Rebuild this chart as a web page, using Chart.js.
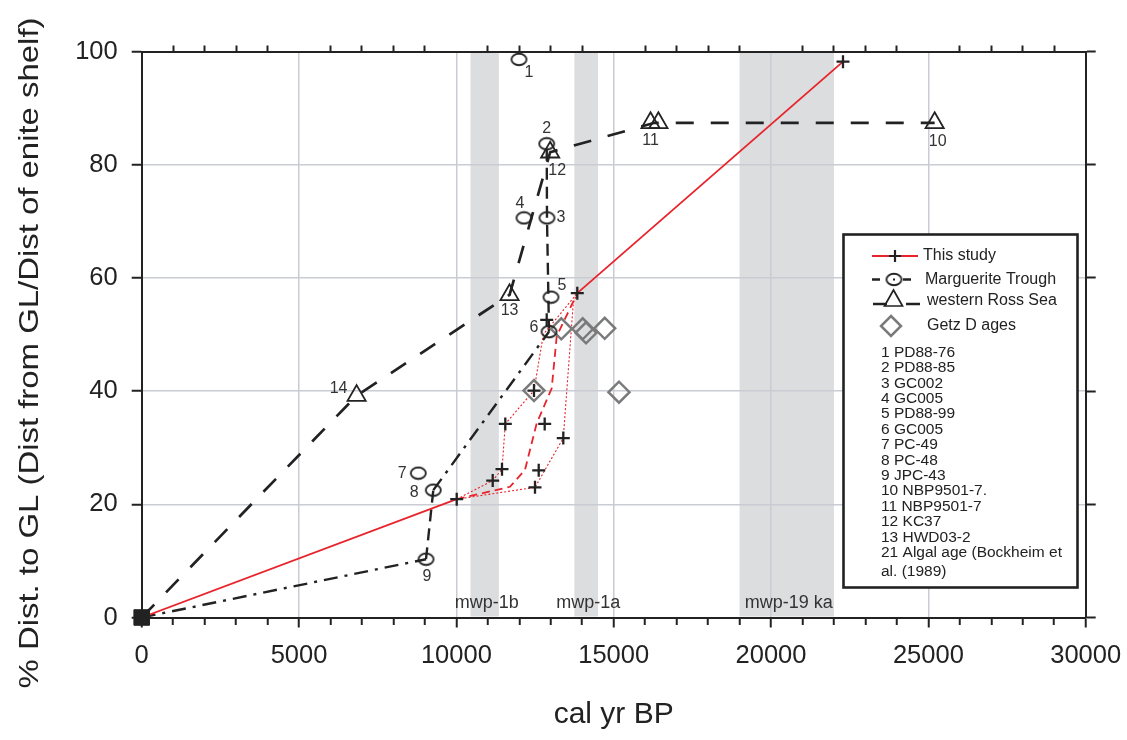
<!DOCTYPE html>
<html>
<head>
<meta charset="utf-8">
<script src="https://cdn.jsdelivr.net/npm/chart.js@4.4.1/dist/chart.umd.min.js"></script>
<style>
  html, body { margin: 0; padding: 0; background: #fff; }
  canvas { display: block; }
</style>
</head>
<body>
<canvas id="graphCanvas" width="1127" height="740"></canvas>
<script>
// ---- values ----
// "This study" main line (solid red), gap between 2nd and 3rd point
var studyX = [0, 10011, 13843, 22287];
var studyY = [0, 20.9, 57.3, 98.2];

// red envelope lines between 10 ka and 13.8 ka
var leftEnvX = [10011, 11155, 11450, 11555, 12467, 12763, 13843];
var leftEnvY = [20.9, 24.2, 26.2, 34.2, 40.1, 50.0, 57.3];
var rightEnvX = [10011, 12499, 13398, 13716, 13843];
var rightEnvY = [20.9, 23.0, 31.7, 55.6, 57.3];
var midX = [10011, 11704, 12181, 12553, 13030, 13189, 13843];
var midY = [20.9, 23.1, 26.1, 34.3, 40.5, 49.7, 57.3];

// "+" dates of this study
var crossX = [10011, 11155, 11450, 11555, 12467, 12499, 12617, 12807, 13398, 12871, 13843, 22287];
var crossY = [20.9, 24.2, 26.2, 34.2, 40.1, 23.0, 26.0, 34.2, 31.7, 52.6, 57.3, 98.2];

// Marguerite Trough
var margX = [0, 9035, 9267, 12944, 12880, 12871];
var margY = [0, 10.3, 22.5, 50.5, 70.6, 83.7];
var circleX = [11990, 12871, 12880, 12149, 13007, 12944, 8790, 9267, 9035];
var circleY = [98.6, 83.7, 70.6, 70.6, 56.6, 50.5, 25.5, 22.5, 10.3];
var circleLabels = ['1', '2', '3', '4', '5', '6', '7', '8', '9'];

// western Ross Sea
var rossX = [0, 6830, 11690, 12980, 16300, 25200];
var rossY = [0, 39.2, 57.0, 82.2, 87.4, 87.4];
var triX = [6830, 11690, 12980, 16170, 16420, 25200];
var triY = [39.2, 57.0, 82.2, 87.4, 87.4, 87.4];
var triLabels = ['14', '13', '12', '11', '', '10'];

// Getz D ages
var getzX = [12467, 13335, 14015, 14120, 14714, 15168];
var getzY = [40.1, 51.0, 51.0, 50.3, 51.1, 39.8];

// meltwater pulses
var bandStart = [10450, 13750, 19000];
var bandEnd = [11350, 14500, 22000];
var bandLabels = ['mwp-1b', 'mwp-1a', 'mwp-19 ka'];

var legendList = ['1 PD88-76', '2 PD88-85', '3 GC002', '4 GC005', '5 PD88-99', '6 GC005',
  '7 PC-49', '8 PC-48', '9 JPC-43', '10 NBP9501-7.', '11 NBP9501-7', '12 KC37',
  '13 HWD03-2', '21 Algal age (Bockheim et', 'al. (1989)'];

var yTitle = '% Dist. to GL (Dist from GL/Dist of enite shelf)';

// ---- styles ----
var FONT = '"Liberation Sans", Arial, Helvetica, sans-serif';
var RED = '#e8232b';
var INK = '#222';
var GRID = '#c9ccd3';
Chart.defaults.font.family = FONT;
Chart.defaults.color = INK;

// label offsets (px) next to the markers
var circleLabelOff = [[10, 13], [0, -15], [14, 0], [-4, -14], [11, -12], [-15, -4], [-16, 0], [-19, 2], [1, 17]];
var triLabelOff = [[-18, -7], [0, 16], [7, 18], [0, 18], [0, 0], [3, 19]];

function pts(xs, ys) {
  var out = [];
  for (var i = 0; i < xs.length; i++) out.push({ x: xs[i], y: ys[i] });
  return out;
}

function ellipseMarker(w, h, lw) {
  var c = document.createElement('canvas');
  c.width = w + 4;
  c.height = h + 4;
  var g = c.getContext('2d');
  g.strokeStyle = INK;
  g.lineWidth = lw;
  g.beginPath();
  g.ellipse(c.width / 2, c.height / 2, w / 2, h / 2, 0, 0, 2 * Math.PI);
  g.stroke();
  return c;
}
var ellipse = ellipseMarker(15, 11.5, 1.8);

function isMajor(ctx) {
  return ctx.tick && ctx.tick.value % 5000 === 0;
}

var overlay = {
  id: 'overlay',
  beforeDraw: function (chart) {
    var ctx = chart.ctx, a = chart.chartArea, xs = chart.scales.x;
    ctx.save();
    ctx.fillStyle = '#dcdddf';
    for (var i = 0; i < bandStart.length; i++) {
      var x1 = xs.getPixelForValue(bandStart[i]);
      var x2 = xs.getPixelForValue(bandEnd[i]);
      ctx.fillRect(x1, a.top, x2 - x1, a.bottom - a.top - 1);
    }
    // y axis title, stretched a little along its length like the original
    ctx.translate(30, 353);
    ctx.rotate(-Math.PI / 2);
    ctx.scale(1.175, 1);
    ctx.font = '28px ' + FONT;
    ctx.fillStyle = INK;
    ctx.textAlign = 'center';
    ctx.textBaseline = 'middle';
    ctx.fillText(yTitle, 0, 0);
    ctx.restore();
  },
  afterDatasetsDraw: function (chart) {
    var ctx = chart.ctx, a = chart.chartArea, xs = chart.scales.x, ys = chart.scales.y;
    ctx.save();
    // band names
    ctx.font = '18px ' + FONT;
    ctx.fillStyle = '#333';
    ctx.textAlign = 'center';
    ctx.textBaseline = 'middle';
    for (var i = 0; i < bandLabels.length; i++) {
      var cx = (xs.getPixelForValue(bandStart[i]) + xs.getPixelForValue(bandEnd[i])) / 2;
      ctx.fillText(bandLabels[i], cx + 2, a.bottom - 14);
    }
    // point numbers
    ctx.font = '16px ' + FONT;
    for (i = 0; i < circleLabels.length; i++) {
      ctx.fillText(circleLabels[i], xs.getPixelForValue(circleX[i]) + circleLabelOff[i][0],
        ys.getPixelForValue(circleY[i]) + circleLabelOff[i][1]);
    }
    for (i = 0; i < triLabels.length; i++) {
      if (!triLabels[i]) continue;
      ctx.fillText(triLabels[i], xs.getPixelForValue(triX[i]) + triLabelOff[i][0],
        ys.getPixelForValue(triY[i]) + triLabelOff[i][1]);
    }
    ctx.restore();
    drawLegend(ctx);
  }
};

function drawLegend(ctx) {
  ctx.save();
  ctx.fillStyle = '#fff';
  ctx.fillRect(843.5, 234.5, 234, 353);
  ctx.lineWidth = 2.6;
  ctx.strokeStyle = INK;
  ctx.strokeRect(843.5, 234.5, 234, 353);

  // This study
  ctx.strokeStyle = RED;
  ctx.lineWidth = 1.8;
  ctx.beginPath(); ctx.moveTo(872, 256); ctx.lineTo(918, 256); ctx.stroke();
  ctx.strokeStyle = INK;
  ctx.lineWidth = 2.2;
  ctx.beginPath();
  ctx.moveTo(889, 256); ctx.lineTo(901, 256);
  ctx.moveTo(895, 250); ctx.lineTo(895, 262);
  ctx.stroke();

  // Marguerite Trough
  ctx.lineWidth = 2.4;
  ctx.beginPath();
  ctx.moveTo(872, 279.5); ctx.lineTo(880, 279.5);
  ctx.moveTo(903, 279.5); ctx.lineTo(911, 279.5);
  ctx.stroke();
  ctx.drawImage(ellipse, 894 - ellipse.width / 2, 279.5 - ellipse.height / 2);
  ctx.fillStyle = INK;
  ctx.fillRect(893, 278.5, 2, 2);

  // western Ross Sea
  ctx.lineWidth = 2.6;
  ctx.beginPath();
  ctx.moveTo(873, 304); ctx.lineTo(887, 304);
  ctx.moveTo(906, 304); ctx.lineTo(920, 304);
  ctx.stroke();
  ctx.lineWidth = 1.7;
  ctx.beginPath();
  ctx.moveTo(893.5, 290); ctx.lineTo(902.5, 306); ctx.lineTo(884.5, 306); ctx.closePath();
  ctx.stroke();

  // Getz D ages
  ctx.strokeStyle = '#7a7a7a';
  ctx.lineWidth = 2.5;
  ctx.beginPath();
  ctx.moveTo(891, 316); ctx.lineTo(901, 326); ctx.lineTo(891, 336); ctx.lineTo(881, 326); ctx.closePath();
  ctx.stroke();

  ctx.fillStyle = INK;
  ctx.textAlign = 'left';
  ctx.textBaseline = 'middle';
  ctx.font = '16px ' + FONT;
  ctx.fillText('This study', 923, 256);
  ctx.fillText('Marguerite Trough', 925, 279.5);
  ctx.fillText('western Ross Sea', 927, 301);
  ctx.fillText('Getz D ages', 927, 326);

  ctx.font = '15.5px ' + FONT;
  for (var i = 0; i < legendList.length; i++) {
    var y = 352.5 + i * 15.4;
    if (i === legendList.length - 1) y += 4;
    ctx.fillText(legendList[i], 881, y);
  }
  ctx.restore();
}

var lineBase = { showLine: true, pointRadius: 0, fill: false, xAxisID: 'x', yAxisID: 'y', tension: 0 };

new Chart(document.getElementById('graphCanvas'), {
  type: 'scatter',
  data: {
    datasets: [
      {
        label: 'origin', data: [{ x: 0, y: 0 }], pointStyle: 'rect', pointRadius: 11,
        backgroundColor: INK, borderColor: INK, borderWidth: 1, clip: false, xAxisID: 'x', yAxisID: 'y'
      },
      {
        label: 'This study', data: pts(crossX, crossY), pointStyle: 'cross', pointRadius: 6.5,
        borderColor: INK, borderWidth: 2.3, clip: false, xAxisID: 'x', yAxisID: 'y'
      },
      {
        label: 'Marguerite Trough', data: pts(circleX, circleY), pointStyle: ellipse,
        pointRadius: 7, clip: false, xAxisID: 'x', yAxisID: 'y'
      },
      {
        label: 'western Ross Sea', data: pts(triX, triY), pointStyle: 'triangle', pointRadius: 10.5,
        borderColor: INK, borderWidth: 1.8, backgroundColor: 'rgba(0,0,0,0)', clip: false,
        xAxisID: 'x', yAxisID: 'y'
      },
      {
        label: 'Getz D ages', data: pts(getzX, getzY), pointStyle: 'rectRot', pointRadius: 10.5,
        borderColor: '#7a7a7a', borderWidth: 2.5, backgroundColor: 'rgba(0,0,0,0)', clip: false,
        xAxisID: 'x', yAxisID: 'y'
      },
      Object.assign({}, lineBase, {
        label: 'study line', data: pts(studyX, studyY), borderColor: RED, borderWidth: 1.8,
        segment: { borderColor: function (c) { return c.p0DataIndex === 1 ? 'rgba(0,0,0,0)' : RED; } }
      }),
      Object.assign({}, lineBase, {
        label: 'mid', data: pts(midX, midY), borderColor: RED, borderWidth: 1.8, borderDash: [8, 5]
      }),
      Object.assign({}, lineBase, {
        label: 'left env', data: pts(leftEnvX, leftEnvY), borderColor: RED, borderWidth: 1.1, borderDash: [2, 2]
      }),
      Object.assign({}, lineBase, {
        label: 'right env', data: pts(rightEnvX, rightEnvY), borderColor: RED, borderWidth: 1.1, borderDash: [2, 2]
      }),
      Object.assign({}, lineBase, {
        label: 'Marguerite line', data: pts(margX, margY), borderColor: INK, borderWidth: 2.4,
        borderDash: [14, 7, 3, 7],
        segment: {
          borderDash: function (c) {
            if (c.p0DataIndex === 1 || c.p0DataIndex >= 3) return [12, 7];
            return [14, 7, 3, 7];
          }
        }
      }),
      Object.assign({}, lineBase, {
        label: 'Ross line', data: pts(rossX, rossY), borderColor: INK, borderWidth: 2.7,
        borderDash: [18, 17]
      })
    ]
  },
  options: {
    responsive: false,
    animation: false,
    events: [],
    layout: { padding: 0 },
    plugins: { legend: { display: false }, tooltip: { enabled: false } },
    scales: {
      x: {
        type: 'linear', position: 'bottom', min: 0, max: 30000,
        afterFit: function (s) { s.height = 122.5; s.paddingLeft = 0; s.paddingRight = 0; },
        ticks: {
          stepSize: 1000, autoSkip: false, maxRotation: 0, minRotation: 0, padding: 13,
          font: { size: 25.5 }, color: INK,
          callback: function (v) { return v % 5000 === 0 ? String(v) : ''; }
        },
        grid: {
          color: function (c) { return isMajor(c) ? GRID : 'rgba(0,0,0,0)'; },
          lineWidth: 1.5, tickLength: 10, tickWidth: 2, tickColor: INK,
          tickBorderDash: function (c) { return isMajor(c) ? [] : [6, 30]; }
        },
        border: { color: INK, width: 2 },
        title: { display: true, text: 'cal yr BP', font: { size: 30 }, color: INK, padding: { top: 0, bottom: 7 } }
      },
      x2: {
        type: 'linear', position: 'top', min: 0, max: 30000,
        afterFit: function (s) { s.height = 51.5; s.paddingLeft = 0; s.paddingRight = 0; },
        ticks: { display: false, stepSize: 1000 },
        grid: {
          drawOnChartArea: false, tickLength: 6, tickWidth: 2,
          tickColor: function (c) { return isMajor(c) ? 'rgba(0,0,0,0)' : INK; }
        },
        border: { color: INK, width: 2 }
      },
      y: {
        type: 'linear', position: 'left', min: 0, max: 100,
        afterFit: function (s) { s.width = 141.7; },
        ticks: {
          stepSize: 20, padding: 14, font: { size: 25.5 }, color: INK,
          callback: function (v) { return String(v); }
        },
        grid: { color: GRID, lineWidth: 1.5, tickLength: 10, tickWidth: 2, tickColor: INK },
        border: { color: INK, width: 2 }
      },
      y2: {
        type: 'linear', position: 'right', min: 0, max: 100,
        afterFit: function (s) { s.width = 41.3; },
        ticks: { display: false, stepSize: 20 },
        grid: { drawOnChartArea: false, tickLength: 10, tickWidth: 2, tickColor: INK },
        border: { color: INK, width: 2 }
      }
    }
  },
  plugins: [overlay]
});
</script>
</body>
</html>
